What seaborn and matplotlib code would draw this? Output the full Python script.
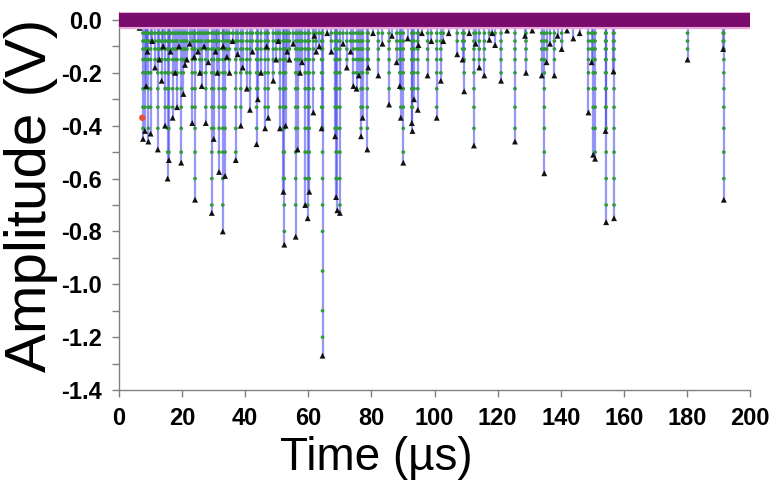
import numpy as np
import pandas as pd
import matplotlib
matplotlib.use("Agg")
import matplotlib.pyplot as plt
import seaborn as sns

# 脉冲时间 (µs) 与峰值幅度 (V)
spike_t = [7.6, 8.2, 8.6, 9.3, 10.0, 11.4, 12.3, 13.5, 14.6, 15.4, 15.8, 17.0, 18.4,
           19.7, 20.4, 21.5, 23.2, 24.1, 25.0, 26.2, 27.5, 29.4, 30.0, 31.7, 32.9,
           33.6, 35.0, 37.0, 38.6, 40.5, 41.5, 43.6, 44.0, 46.3, 47.3, 48.9, 51.0,
           52.1, 52.4, 52.8, 54.0, 56.0, 56.6, 58.0, 59.0, 59.8, 60.3, 61.6, 61.9,
           64.2, 64.5, 68.5, 68.8, 69.2, 70.0, 72.2, 74.3, 75.3, 76.0, 76.7, 77.2,
           78.7, 79.0, 82.2, 85.6, 88.0, 89.0, 89.3, 90.1, 92.8, 93.0, 93.5, 94.7,
           94.9, 97.8, 100.7, 102.0, 102.8, 107.2, 108.9, 109.4, 112.5, 114.2,
           115.8, 117.4, 119.2, 121.1, 125.5, 128.7, 129.0, 134.0, 134.8, 135.5,
           138.0, 140.3, 144.0, 148.8, 149.8, 150.3, 150.9, 154.2, 154.4, 156.7,
           156.9, 180.2, 191.5, 191.7]
spike_a = [-0.45, -0.42, -0.25, -0.46, -0.43, -0.18, -0.49, -0.23, -0.40, -0.60, -0.53,
           -0.37, -0.33, -0.54, -0.28, -0.15, -0.39, -0.68, -0.12, -0.25, -0.39, -0.73,
           -0.45, -0.575, -0.80, -0.59, -0.20, -0.53, -0.40, -0.26, -0.34, -0.47, -0.30,
           -0.41, -0.37, -0.23, -0.41, -0.65, -0.85, -0.40, -0.15, -0.82, -0.49, -0.16,
           -0.70, -0.75, -0.65, -0.35, -0.06, -0.41, -1.27, -0.44, -0.67, -0.72, -0.73,
           -0.18, -0.25, -0.26, -0.21, -0.44, -0.37, -0.49, -0.18, -0.21, -0.32, -0.16,
           -0.25, -0.37, -0.54, -0.39, -0.42, -0.30, -0.34, -0.095, -0.21, -0.37, -0.23,
           -0.08, -0.13, -0.15, -0.27, -0.475, -0.18, -0.21, -0.075, -0.095, -0.23,
           -0.46, -0.06, -0.20, -0.21, -0.58, -0.16, -0.21, -0.11, -0.07, -0.35, -0.16,
           -0.51, -0.525, -0.42, -0.765, -0.195, -0.75, -0.15, -0.11, -0.68]

# 小脉冲
small_t = [6.5, 9.0, 10.5, 12.8, 14.0, 16.3, 17.8, 19.0, 20.9, 22.4, 23.8, 25.6, 27.0,
           28.3, 30.6, 31.2, 33.0, 34.2, 36.0, 37.6, 39.2, 42.3, 45.0, 46.8, 49.8, 50.5,
           53.3, 55.2, 57.4, 62.5, 63.5, 66.0, 67.3, 71.0, 73.4, 80.5, 83.5, 86.5, 91.5,
           96.0, 99.0, 104.5, 111.0, 113.0, 118.3, 123.0, 131.0, 136.6, 139.0, 142.0, 146.0]
small_a = [-0.03, -0.12, -0.08, -0.15, -0.10, -0.12, -0.20, -0.10, -0.17, -0.09, -0.14,
           -0.20, -0.10, -0.16, -0.12, -0.20, -0.10, -0.14, -0.08, -0.13, -0.18, -0.12,
           -0.20, -0.10, -0.15, -0.08, -0.12, -0.09, -0.20, -0.12, -0.10, -0.05, -0.12,
           -0.09, -0.12, -0.05, -0.09, -0.06, -0.07, -0.05, -0.08, -0.05, -0.05, -0.09,
           -0.05, -0.04, -0.04, -0.09, -0.06, -0.04, -0.05]

# 中间采样点所在电平
dot_levels = [-0.02, -0.05, -0.08, -0.11, -0.15, -0.20, -0.26, -0.33, -0.41, -0.50,
              -0.60, -0.70, -0.80, -0.95, -1.10, -1.20]

# 红点
red_t = [7.4]
red_a = [-0.37]

x_ticks = [0, 20, 40, 60, 80, 100, 120, 140, 160, 180, 200]
y_ticks = [0.0, -0.2, -0.4, -0.6, -0.8, -1.0, -1.2, -1.4]

sns.set_style("ticks")
plt.rcParams['font.family'] = ['Liberation Sans', 'DejaVu Sans']

all_t = spike_t + small_t
all_a = spike_a + small_a
tips = pd.DataFrame({'t': all_t, 'a': all_a})

dots = []
for t, a in zip(all_t, all_a):
    for lv in dot_levels:
        if lv > a + 0.02:
            dots.append((t, lv))
dots = pd.DataFrame(dots, columns=['t', 'a'])

fig = plt.figure(figsize=(7.76, 4.9), dpi=100)
ax = fig.add_axes([0.1534, 0.204, 0.8131, 0.7715])

# 脉冲竖线
ax.vlines(tips['t'], tips['a'], 0, color='#3030f0', alpha=0.5, lw=1.6, zorder=2)

sns.scatterplot(data=dots, x='t', y='a', ax=ax, marker='o', s=7, color='#2f9a3a',
                edgecolor='none', zorder=3, legend=False)
sns.scatterplot(data=tips, x='t', y='a', ax=ax, marker='^', s=18, color='#111111',
                edgecolor='none', zorder=4, legend=False)
sns.scatterplot(x=red_t, y=red_a, ax=ax, marker='o', s=22, color='#e8503c',
                edgecolor='none', zorder=4, legend=False)

# 零电平紫色带
ax.plot([0, 200], [0, 0], color='#e7a8d8', lw=12.5, solid_capstyle='butt', zorder=5)
ax.plot([0, 200], [0, 0], color='#7a0a6c', lw=10, solid_capstyle='butt', zorder=6)

ax.set_xlim(0, 200)
ax.set_ylim(-1.4, 0.03)
ax.set_xticks(x_ticks)
ax.set_yticks(y_ticks)
ax.set_yticks(np.arange(-1.3, 0.0, 0.2), minor=True)
ax.set_yticklabels([f'{v:.1f}' for v in y_ticks], fontweight='bold', fontsize=17)
ax.set_xticklabels([str(v) for v in x_ticks], fontweight='bold', fontsize=17)
ax.tick_params(axis='both', which='both', direction='out', length=5, color='#808080',
               width=1, pad=7, labelcolor='black')

sns.despine(ax=ax)
for s in ['left', 'bottom']:
    ax.spines[s].set_color('#808080')
    ax.spines[s].set_linewidth(1)

ax.set_xlabel('Time (µs)', fontsize=33, va='center', color='black')
ax.xaxis.set_label_coords(0.407, -0.18)
ax.set_ylabel('Amplitude (V)', fontsize=42, va='center', color='black')
ax.yaxis.set_label_coords(-0.14, 0.516)

fig.savefig('out.png', dpi=100)
